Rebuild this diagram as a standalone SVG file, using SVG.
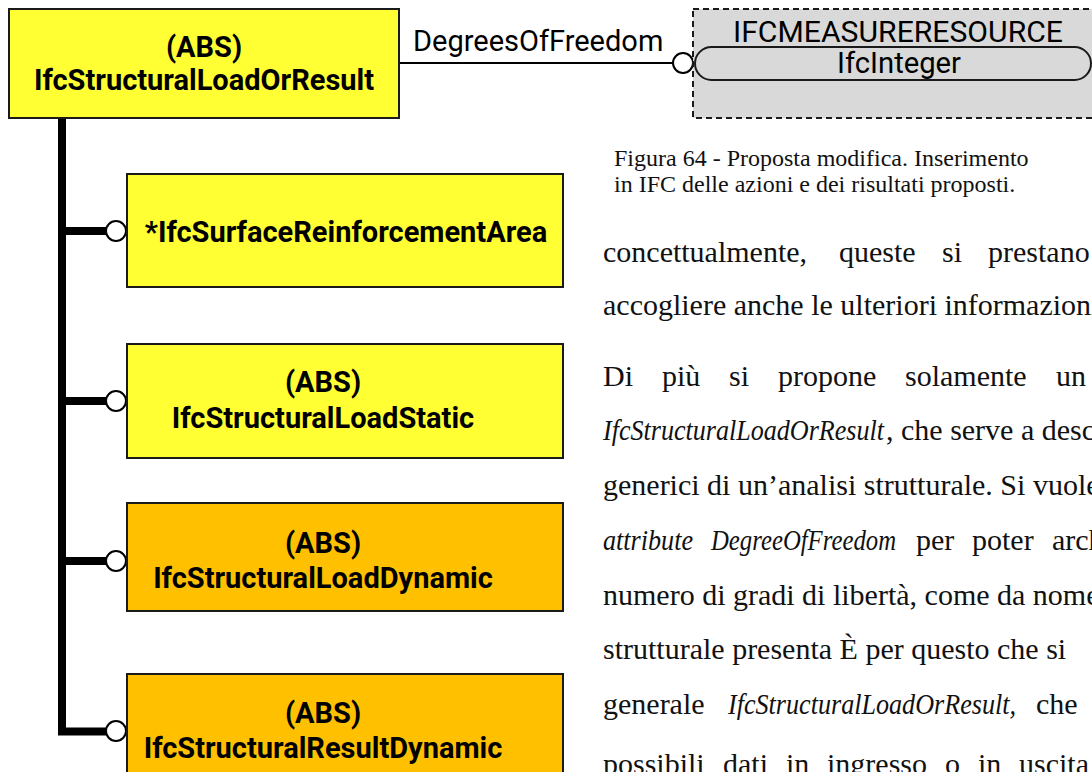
<svg xmlns="http://www.w3.org/2000/svg" width="1092" height="772" viewBox="0 0 1092 772">
<style>
.ent{stroke:#1a1a1a;stroke-width:2}
.y{fill:#FFFF33}
.o{fill:#FFC000}
.bt{font-family:Roboto,"Liberation Sans",sans-serif;font-weight:bold;font-size:29px;fill:#000;text-anchor:middle}
.rt{font-family:Roboto,"Liberation Sans",sans-serif;font-size:29px;fill:#000}
.cap{font-family:"Liberation Serif",serif;font-size:24px;fill:#111}
.body{font-family:"Liberation Serif",serif;font-size:30px;fill:#111}
.it{font-style:italic}
.trunk{stroke:#000;stroke-width:8;fill:none}
.ring{fill:#fff;stroke:#000;stroke-width:2}
</style>
<rect width="1092" height="772" fill="#fff"/>
<g id="connectors">
<path class="trunk" d="M62 118 V731.5 H106"/>
<path class="trunk" d="M62 231 H106 M62 401 H106 M62 561 H106"/>
<line x1="399" y1="63" x2="673" y2="63" stroke="#000" stroke-width="2"/>
<circle class="ring" cx="116" cy="231" r="10"/>
<circle class="ring" cx="116" cy="401" r="10"/>
<circle class="ring" cx="116" cy="561" r="10"/>
<circle class="ring" cx="116" cy="731" r="10"/>
<circle class="ring" cx="683" cy="63" r="10"/>
<text class="rt" x="413" y="51">DegreesOfFreedom</text>
</g>
<g id="IfcStructuralLoadOrResult">
<rect class="ent y" x="9" y="9" width="390" height="109"/>
<text class="bt" x="204" y="57">(ABS)</text>
<text class="bt" x="204" y="90">IfcStructuralLoadOrResult</text>
</g>
<g id="IfcMeasureResource">
<rect x="693" y="9" width="420" height="109" fill="#D9D9D9" stroke="#1a1a1a" stroke-width="2" stroke-dasharray="6 4"/>
<text class="rt" x="733" y="42" font-size="28" textLength="330" lengthAdjust="spacingAndGlyphs">IFCMEASURERESOURCE</text>
<rect x="695" y="47" width="396" height="33" rx="16.5" fill="#D9D9D9" stroke="#1a1a1a" stroke-width="2"/>
<text class="rt" x="899" y="73" font-size="27" text-anchor="middle" textLength="124" lengthAdjust="spacingAndGlyphs">IfcInteger</text>
</g>
<g id="IfcSurfaceReinforcementArea">
<rect class="ent y" x="127" y="174" width="436" height="113"/>
<text class="bt" x="346" y="242">*IfcSurfaceReinforcementArea</text>
</g>
<g id="IfcStructuralLoadStatic">
<rect class="ent y" x="127" y="344" width="436" height="114"/>
<text class="bt" x="323" y="392">(ABS)</text>
<text class="bt" x="323" y="428">IfcStructuralLoadStatic</text>
</g>
<g id="IfcStructuralLoadDynamic">
<rect class="ent o" x="127" y="503" width="436" height="108"/>
<text class="bt" x="323" y="553">(ABS)</text>
<text class="bt" x="323" y="588">IfcStructuralLoadDynamic</text>
</g>
<g id="IfcStructuralResultDynamic">
<rect class="ent o" x="127" y="674" width="436" height="120"/>
<text class="bt" x="323" y="723">(ABS)</text>
<text class="bt" x="323" y="758">IfcStructuralResultDynamic</text>
</g>
<g id="caption">
<text class="cap" x="614" y="166">Figura 64 - Proposta modifica. Inserimento</text>
<text class="cap" x="614" y="192">in IFC delle azioni e dei risultati proposti.</text>
</g>
<g id="bodytext" class="body">
<text y="262"><tspan x="603">concettualmente,</tspan><tspan x="839">queste</tspan><tspan x="942">si</tspan><tspan x="988">prestano</tspan></text>
<text x="603" y="315">accogliere anche le ulteriori informazioni</text>
<text y="386"><tspan x="603">Di</tspan><tspan x="662">più</tspan><tspan x="729">si</tspan><tspan x="778">propone</tspan><tspan x="905">solamente</tspan><tspan x="1056">un</tspan></text>
<text y="440"><tspan x="603" class="it" textLength="281" lengthAdjust="spacingAndGlyphs">IfcStructuralLoadOrResult</tspan><tspan x="886">, che serve a descrivere</tspan></text>
<text x="603" y="495">generici di un’analisi strutturale. Si vuole</text>
<text y="550"><tspan x="603" class="it" textLength="90" lengthAdjust="spacingAndGlyphs">attribute</tspan><tspan x="711" class="it" textLength="185" lengthAdjust="spacingAndGlyphs">DegreeOfFreedom</tspan><tspan x="916">per</tspan><tspan x="972">poter</tspan><tspan x="1052">archiviare</tspan></text>
<text x="603" y="605">numero di gradi di libertà, come da nome</text>
<text x="603" y="659">strutturale presenta È per questo che si</text>
<text y="714"><tspan x="603">generale</tspan><tspan x="728" class="it" textLength="288" lengthAdjust="spacingAndGlyphs">IfcStructuralLoadOrResult,</tspan><tspan x="1036">che</tspan></text>
<text y="774"><tspan x="603">possibili</tspan><tspan x="723">dati</tspan><tspan x="786">in</tspan><tspan x="827">ingresso</tspan><tspan x="945">o</tspan><tspan x="978">in</tspan><tspan x="1019">uscita</tspan></text>
</g>
</svg>
